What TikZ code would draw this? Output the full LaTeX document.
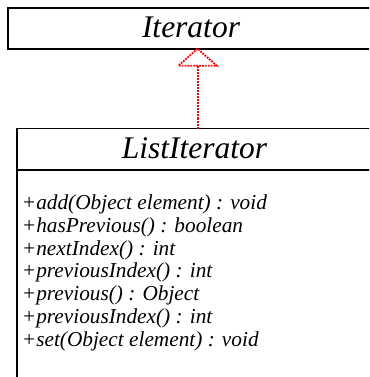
\documentclass[tikz,border=0pt]{standalone}
\usepackage{fontspec}
\setmainfont{Liberation Serif}
\begin{document}
\begin{tikzpicture}[x=1pt,y=1pt,
  classbox/.style={draw=black, line width=1.8pt, fill=white, rectangle,
    inner sep=0pt, outer sep=0pt, anchor=north west},
  classname/.style={font=\fontsize{31.5}{36}\selectfont\itshape,
    anchor=base, inner sep=0pt},
  member/.style={font=\fontsize{21.3}{22.8}\selectfont\itshape,
    anchor=base west, inner sep=0pt},
  realize/.style={draw=red, line width=1.8pt, dash pattern=on 1.8pt off 1.1pt},
  realizeline/.style={draw=red, line width=2pt, dash pattern=on 2pt off 1pt}
]
\useasboundingbox (0,0) rectangle (369,-377);
\clip (0,0) rectangle (369,-377);

% interface box (runs on past the right edge)
\node[classbox, minimum width=420pt, minimum height=40.7pt] (iter) at (8,-8) {};
\node[classname] (itername) at (191,-38) {Iterator};

% implementing class box with its operation compartment
\node[classbox, minimum width=420pt, minimum height=280pt] (list) at (17.3,-128.5) {};
\draw[black, line width=1.8pt] (list.west |- 0,-170) coordinate (sepw) -- (sepw -| list.east);
\node[classname] (listname) at (194.5,-158) {ListIterator};

\foreach \txt [count=\i] in {%
  {+add(Object element) : void},
  {+hasPrevious() : boolean},
  {+nextIndex() : int},
  {+previousIndex() : int},
  {+previous() : Object},
  {+previousIndex() : int},
  {+set(Object element) : void}}
  \node[member] (m\i) at (21.7,{-209.5-22.8*(\i-1)}) {\txt};

% realization arrow: dotted line with hollow triangle head
\coordinate (tip) at (iter.south -| 197.5,0);
\coordinate (base) at ([yshift=-17pt]tip);
\draw[realizeline] (list.north -| tip) -- (base);
\draw[realize] (tip) -- ([xshift=-19.2pt]base) -- ([xshift=19.2pt]base) -- cycle;
\end{tikzpicture}
\end{document}
